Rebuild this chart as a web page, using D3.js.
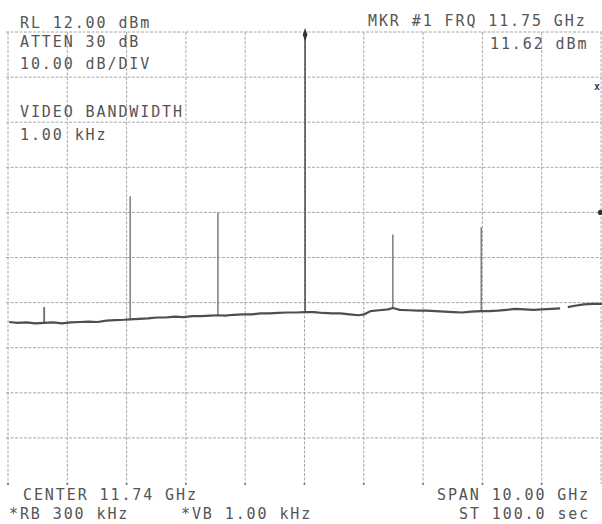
<!DOCTYPE html>
<html>
<head>
<meta charset="utf-8">
<script src="https://cdn.jsdelivr.net/npm/d3@7"></script>
<style>
  html, body { margin: 0; padding: 0; background: #ffffff; }
  svg { display: block; }
  .lbl { font-family: "DejaVu Sans Mono", monospace; font-size: 15px; fill: #555555; letter-spacing: 1.9px; }
</style>
</head>
<body>
<div id="chart"></div>
<script>
// Spectrum analyzer display: 10 GHz span centred on 11.74 GHz, 10 dB/div from RL 12 dBm.
const freqDivs = [6.74, 7.74, 8.74, 9.74, 10.74, 11.74, 12.74, 13.74, 14.74, 15.74, 16.74];
const levelDivs = [12, 2, -8, -18, -28, -38, -48, -58, -68, -78, -88];

// Noise floor trace (GHz, dBm); null marks the sweep gap.
const floorFreq = [6.76, 6.90, 7.05, 7.20, 7.35, 7.50, 7.65, 7.80, 7.95, 8.10, 8.25, 8.40, 8.55, 8.70, 8.80,
  8.95, 9.10, 9.25, 9.40, 9.55, 9.70, 9.85, 10.00, 10.15, 10.28, 10.40, 10.55, 10.70, 10.85, 11.00,
  11.15, 11.30, 11.45, 11.60, 11.75, 11.90, 12.05, 12.20, 12.35, 12.50, 12.65, 12.75, 12.85, 13.00,
  13.15, 13.23, 13.35, 13.50, 13.65, 13.80, 13.95, 14.10, 14.25, 14.40, 14.55, 14.72, 14.85, 15.00,
  15.15, 15.30, 15.45, 15.60, 15.75, 15.90, 16.05, 16.11, 16.18, 16.30, 16.45, 16.60, 16.76];
const floorLevel = [-52.3, -52.5, -52.4, -52.6, -52.5, -52.4, -52.6, -52.4, -52.3, -52.2, -52.3, -52.0, -51.9, -51.8, -51.7,
  -51.6, -51.5, -51.3, -51.3, -51.1, -51.2, -51.0, -51.0, -50.9, -50.8, -50.9, -50.7, -50.6, -50.6, -50.4,
  -50.4, -50.3, -50.2, -50.2, -50.1, -50.1, -50.3, -50.4, -50.4, -50.6, -50.8, -50.6, -49.9, -49.7,
  -49.5, -49.2, -49.6, -49.7, -49.8, -49.8, -49.9, -50.0, -50.1, -50.2, -50.0, -49.9, -49.9, -49.8,
  -49.6, -49.4, -49.5, -49.6, -49.5, -49.4, -49.3, null, -49.0, -48.7, -48.4, -48.3, -48.3];

// Discrete signals: frequency, peak level and floor level under each line.
const spikeFreq = [7.35, 8.80, 10.28, 11.75, 13.23, 14.72];
const spikePeak = [-49.0, -24.4, -28.0, 11.62, -32.9, -31.3];
const spikeBase = [-52.5, -51.7, -50.8, -50.1, -49.2, -49.9];

const markerFreq = 11.75, markerLevel = 11.62;

const W = 602, H = 524;
const svg = d3.select("#chart").append("svg").attr("width", W).attr("height", H);

const x = d3.scaleLinear().domain([6.74, 16.74]).range([8, 601]);
const y = d3.scaleLinear().domain([-88, 12]).range([483, 32]);

// Graticule
const grid = svg.append("g").attr("stroke", "#a8a8a8").attr("stroke-width", 1).attr("fill", "none");
grid.selectAll("line.v").data(freqDivs).join("line").attr("class", "v")
  .attr("x1", d => x(d)).attr("x2", d => x(d))
  .attr("y1", y(12)).attr("y2", y(-88) + 1)
  .attr("stroke-dasharray", "3,1.5");
grid.selectAll("line.h").data(levelDivs.slice(0, -1)).join("line").attr("class", "h")
  .attr("x1", x(6.74) - 2).attr("x2", x(16.74) + 2)
  .attr("y1", d => y(d)).attr("y2", d => y(d))
  .attr("stroke-dasharray", "3,1.5");
// end dots at the bottom of the vertical divisions
svg.append("g").selectAll("circle").data(freqDivs.slice(0, -1)).join("circle")
  .attr("cx", d => x(d)).attr("cy", y(-88) + 1).attr("r", 1.1).attr("fill", "#777");

// Signal lines
svg.append("g").selectAll("line").data(spikeFreq).join("line")
  .attr("x1", d => x(d)).attr("x2", d => x(d))
  .attr("y1", (d, i) => y(spikeBase[i])).attr("y2", (d, i) => y(spikePeak[i]))
  .attr("stroke", (d, i) => i === 3 ? "#555" : "#6a6a6a")
  .attr("stroke-width", (d, i) => i === 3 ? 1.6 : (i === 0 ? 1.8 : 1.3));

// Noise floor
const line = d3.line()
  .defined((d, i) => floorLevel[i] !== null)
  .x(d => x(d))
  .y((d, i) => y(floorLevel[i]));
svg.append("path").datum(floorFreq).attr("d", line)
  .attr("fill", "none").attr("stroke", "#4e4e4e").attr("stroke-width", 2.2)
  .attr("stroke-linejoin", "round");

// Marker on the peak
svg.append("path")
  .attr("d", d3.symbol().type(d3.symbolDiamond).size(30)())
  .attr("transform", `translate(${x(markerFreq)},${y(markerLevel) + 1}) scale(0.8,1.3)`)
  .attr("fill", "#333");

// Side indicators
svg.append("circle").attr("cx", 600.5).attr("cy", y(-28)).attr("r", 2.6).attr("fill", "#333");
svg.append("text").attr("x", 594).attr("y", 90).attr("font-family", "DejaVu Sans Mono")
  .attr("font-size", 10).attr("font-weight", "bold").attr("fill", "#444").text("x");

// Annotations
const labels = [
  { t: "RL 12.00 dBm", x: 20, y: 28 },
  { t: "ATTEN 30 dB", x: 20, y: 47 },
  { t: "10.00 dB/DIV", x: 20, y: 69 },
  { t: "VIDEO BANDWIDTH", x: 20, y: 117 },
  { t: "1.00 kHz", x: 20, y: 140 },
  { t: "MKR #1 FRQ 11.75 GHz", x: 368, y: 26 },
  { t: "11.62 dBm", x: 490, y: 49 },
  { t: "CENTER 11.74 GHz", x: 23, y: 500 },
  { t: "SPAN 10.00 GHz", x: 437, y: 500 },
  { t: "*RB 300 kHz", x: 9, y: 519 },
  { t: "*VB 1.00 kHz", x: 181, y: 519 },
  { t: "ST 100.0 sec", x: 459, y: 519 }
];
svg.append("g").selectAll("text").data(labels).join("text")
  .attr("class", "lbl").attr("x", d => d.x).attr("y", d => d.y).text(d => d.t);
</script>
</body>
</html>
